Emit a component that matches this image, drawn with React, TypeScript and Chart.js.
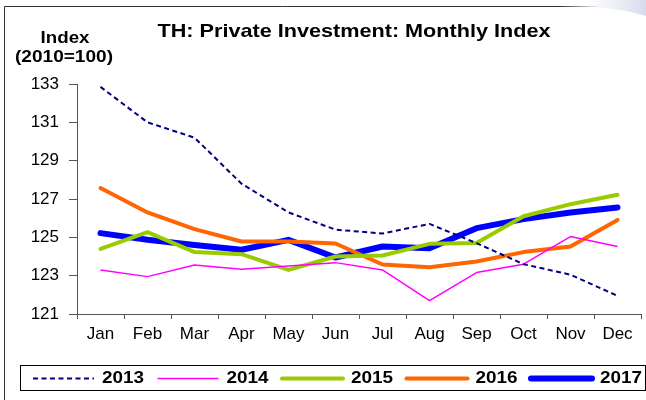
import { useEffect, useRef } from "react";
import { Chart, registerables } from "chart.js";
Chart.register(...registerables);

const months = ["Jan", "Feb", "Mar", "Apr", "May", "Jun", "Jul", "Aug", "Sep", "Oct", "Nov", "Dec"];
const s2013 = [132.85, 131.0, 130.2, 127.8, 126.3, 125.4, 125.2, 125.7, 124.7, 123.6, 123.05, 121.95];
const s2014 = [123.3, 122.95, 123.56, 123.34, 123.5, 123.68, 123.3, 121.7, 123.16, 123.6, 125.04, 124.52];
const s2015 = [124.4, 125.27, 124.23, 124.12, 123.3, 124.0, 124.05, 124.66, 124.7, 126.1, 126.73, 127.22];
const s2016 = [127.57, 126.3, 125.43, 124.78, 124.78, 124.68, 123.58, 123.44, 123.74, 124.23, 124.52, 125.91];
const s2017 = [125.22, 124.87, 124.6, 124.35, 124.87, 123.95, 124.52, 124.43, 125.48, 125.95, 126.3, 126.56];
const yTicks = [121, 123, 125, 127, 129, 131, 133];
const seriesLabels = ["2013", "2014", "2015", "2016", "2017"];
const chartTitle = "TH: Private Investment: Monthly Index";
const yTitle = ["Index", "(2010=100)"];

const FONT = "Arial, 'Liberation Sans', sans-serif";

function stretchText(
  ctx: CanvasRenderingContext2D,
  text: string,
  x: number,
  y: number,
  font: string,
  targetWidth: number,
  align: "left" | "center"
) {
  ctx.save();
  ctx.font = font;
  ctx.textBaseline = "middle";
  ctx.textAlign = "left";
  const w = ctx.measureText(text).width;
  const sx = targetWidth / w;
  const left = align === "center" ? x - targetWidth / 2 : x;
  ctx.translate(left, y);
  ctx.scale(sx, 1);
  ctx.fillText(text, 0, 0);
  ctx.restore();
}

const decor = {
  id: "decor",
  beforeDraw(chart: any) {
    const ctx = chart.ctx as CanvasRenderingContext2D;
    ctx.save();
    // faint corner shading top-right
    const g = ctx.createLinearGradient(585, 0, 646, 0);
    g.addColorStop(0, "rgba(225,228,240,0)");
    g.addColorStop(1, "rgba(215,218,235,1)");
    ctx.fillStyle = g;
    ctx.beginPath();
    ctx.moveTo(585, 0);
    ctx.lineTo(646, 0);
    ctx.lineTo(646, 16);
    ctx.quadraticCurveTo(620, 8, 590, 7);
    ctx.closePath();
    ctx.fill();
    ctx.restore();
  },
  afterDraw(chart: any) {
    const ctx = chart.ctx as CanvasRenderingContext2D;
    ctx.save();
    // frame
    const lg = ctx.createLinearGradient(560, 0, 600, 0);
    lg.addColorStop(0, "rgba(51,51,51,1)");
    lg.addColorStop(1, "rgba(51,51,51,0)");
    ctx.strokeStyle = "#333";
    ctx.lineWidth = 1;
    ctx.beginPath();
    ctx.moveTo(4.5, 400);
    ctx.lineTo(4.5, 6.5);
    ctx.lineTo(560, 6.5);
    ctx.stroke();
    ctx.strokeStyle = lg;
    ctx.beginPath();
    ctx.moveTo(560, 6.5);
    ctx.lineTo(600, 6.5);
    ctx.stroke();
    ctx.fillStyle = "#000";
    // title
    stretchText(ctx, chartTitle, 354, 32, `bold 19px ${FONT}`, 393, "center");
    // y title
    stretchText(ctx, yTitle[0], 65, 38, `bold 17px ${FONT}`, 49, "center");
    stretchText(ctx, yTitle[1], 64, 57, `bold 17px ${FONT}`, 98, "center");
    // legend
    ctx.strokeStyle = "#000";
    ctx.lineWidth = 1;
    ctx.strokeRect(20.5, 365.5, 625, 25);
    const ds = chart.data.datasets;
    for (let i = 0; i < ds.length; i++) {
      const x0 = 33 + i * 124.5;
      const x1 = x0 + 61;
      const y = 378.5;
      ctx.beginPath();
      ctx.strokeStyle = ds[i].borderColor;
      ctx.lineWidth = ds[i].borderWidth;
      ctx.setLineDash(ds[i].borderDash || []);
      ctx.lineCap = ds[i].borderWidth >= 4 ? "round" : "butt";
      ctx.moveTo(x0, y);
      ctx.lineTo(x1, y);
      ctx.stroke();
      ctx.setLineDash([]);
      ctx.fillStyle = "#000";
      stretchText(ctx, ds[i].label, x1 + 8, y + 0.5, `bold 16px ${FONT}`, 42, "left");
    }
    ctx.restore();
  },
};

export default function App() {
  const ref = useRef<HTMLCanvasElement>(null);
  useEffect(() => {
    document.body.style.margin = "0";
    const mk = (label: string, data: number[], color: string, width: number, dash?: number[]) => ({
      label,
      data,
      borderColor: color,
      backgroundColor: color,
      borderWidth: width,
      borderDash: dash,
      pointRadius: 0,
      tension: 0,
      fill: false,
      borderCapStyle: width >= 4 ? "round" : "butt",
      borderJoinStyle: "round",
    });
    const chart = new Chart(ref.current!, {
      type: "line",
      data: {
        labels: months,
        datasets: [
          mk(seriesLabels[0], s2013, "#000080", 2, [5, 3.5]),
          mk(seriesLabels[1], s2014, "#FF00FF", 1.5),
          mk(seriesLabels[2], s2015, "#99CC00", 4),
          mk(seriesLabels[3], s2016, "#FF6600", 4),
          mk(seriesLabels[4], s2017, "#0000FF", 6),
        ] as any,
      },
      options: {
        responsive: false,
        animation: false,
        layout: { padding: { left: 0, right: 5, top: 84, bottom: 0 } },
        plugins: { legend: { display: false }, title: { display: false }, tooltip: { enabled: false } },
        scales: {
          x: {
            offset: true,
            grid: { offset: true, drawOnChartArea: false, tickLength: 5, color: "#555" },
            border: { color: "#555" },
            ticks: { font: { family: FONT, size: 17 }, color: "#000", padding: 5, maxRotation: 0, autoSkip: false },
            afterFit: (s: any) => {
              s.height = 86;
            },
          },
          y: {
            min: 121,
            max: 133,
            afterBuildTicks: (s: any) => {
              s.ticks = yTicks.map((v) => ({ value: v }));
            },
            grid: { drawOnChartArea: false, tickLength: 8, color: "#555" },
            border: { color: "#555" },
            ticks: { font: { family: FONT, size: 17 }, color: "#000", padding: 10 },
            afterFit: (s: any) => {
              s.width = 77;
            },
          },
        },
      },
      plugins: [decor],
    });
    return () => chart.destroy();
  }, []);
  return <canvas ref={ref} width={646} height={400} style={{ display: "block" }} />;
}
